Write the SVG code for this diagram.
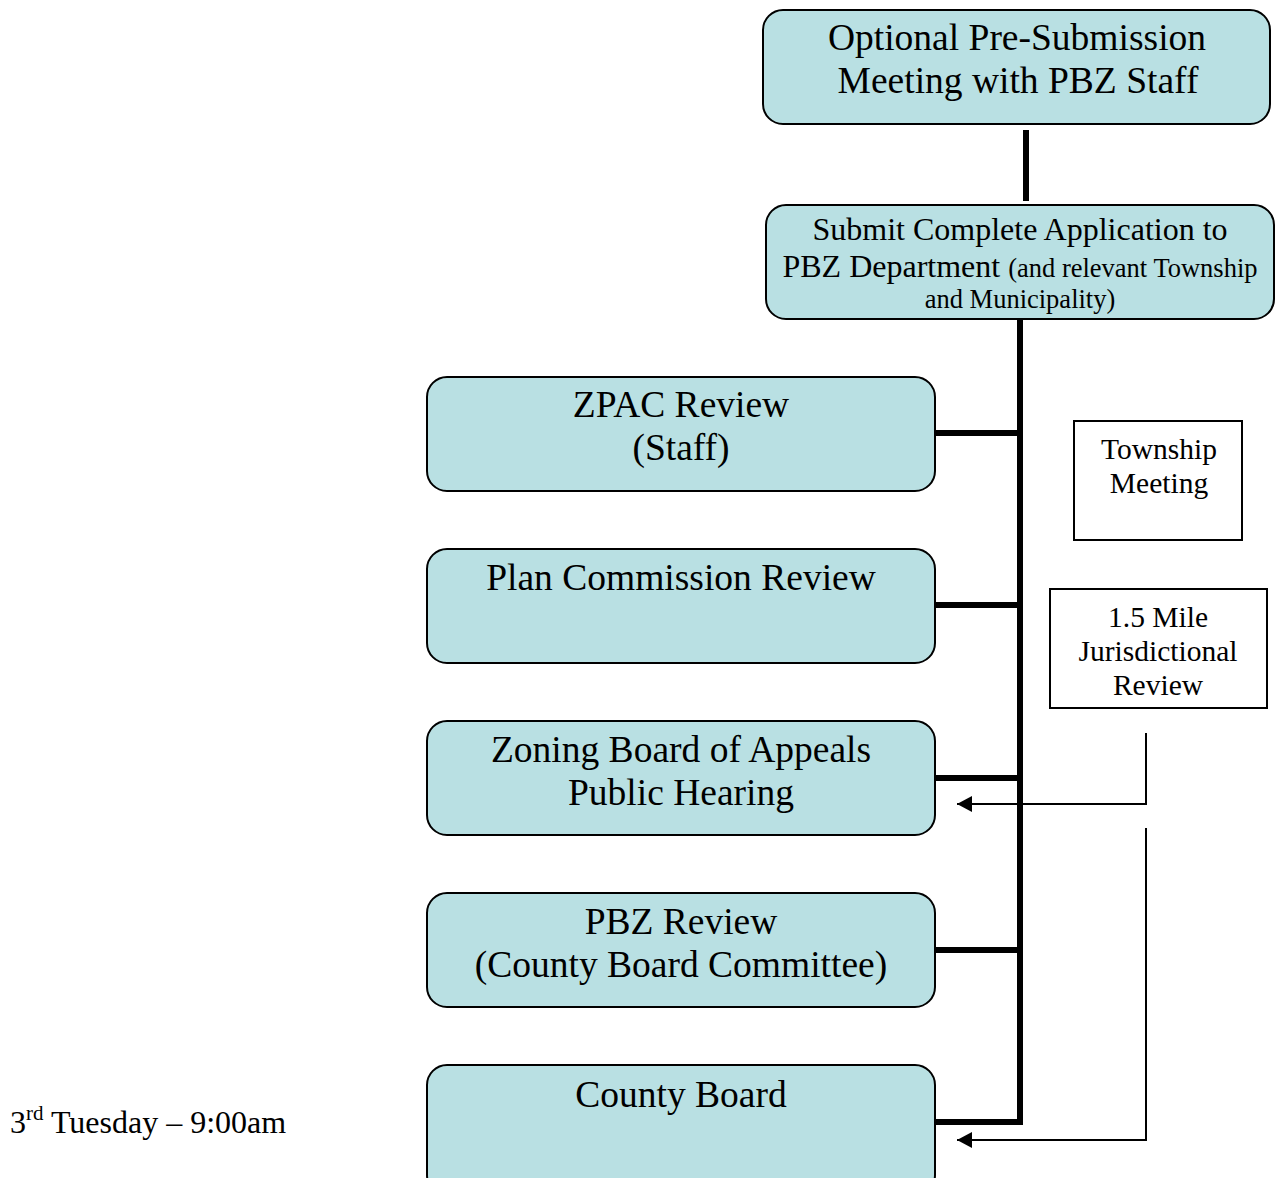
<svg xmlns="http://www.w3.org/2000/svg" width="1277" height="1178" viewBox="0 0 1277 1178">
<style>
.box{fill:#b9e0e3;stroke:#000;stroke-width:2}
.rect{fill:#fff;stroke:#000;stroke-width:2}
text{font-family:"Liberation Serif","Times New Roman",serif;fill:#000;text-anchor:middle}
.big{font-size:37.5px}
.mid{font-size:32px}
.sm{font-size:26.5px}
.lbl{font-size:29.5px}
.thick{stroke:#000;stroke-width:6;fill:none}
.thin{stroke:#000;stroke-width:2;fill:none}
</style>
<defs>
<marker id="ah" markerUnits="userSpaceOnUse" markerWidth="16" markerHeight="16" refX="15" refY="8" orient="auto">
<path d="M0,0 L15,8 L0,16 Z" fill="#000"/>
</marker>
</defs>
<rect width="1277" height="1178" fill="#fff"/>
<g id="connectors">
<line class="thick" x1="1026" y1="130" x2="1026" y2="201"/>
<polyline class="thick" points="1020,319 1020,1122 935,1122"/>
<line class="thick" x1="935" y1="433" x2="1020" y2="433"/>
<line class="thick" x1="935" y1="605" x2="1020" y2="605"/>
<line class="thick" x1="935" y1="778" x2="1020" y2="778"/>
<line class="thick" x1="935" y1="950" x2="1020" y2="950"/>
<polyline class="thin" points="1146,733 1146,804 957,804" marker-end="url(#ah)"/>
<polyline class="thin" points="1146,828 1146,1140 957,1140" marker-end="url(#ah)"/>
</g>
<g id="pre">
<rect class="box" x="763" y="10" width="507" height="114" rx="20"/>
<text class="big" x="1017" y="50">Optional Pre-Submission</text>
<text class="big" x="1018" y="93">Meeting with PBZ Staff</text>
</g>
<g id="submit">
<rect class="box" x="766" y="205" width="508" height="114" rx="20"/>
<text class="mid" x="1020" y="240">Submit Complete Application to</text>
<text x="1020" y="277"><tspan class="mid">PBZ Department </tspan><tspan class="sm">(and relevant Township</tspan></text>
<text class="sm" x="1020" y="308">and Municipality)</text>
</g>
<g id="zpac">
<rect class="box" x="427" y="377" width="508" height="114" rx="20"/>
<text class="big" x="681" y="417">ZPAC Review</text>
<text class="big" x="681" y="460">(Staff)</text>
</g>
<g id="plan">
<rect class="box" x="427" y="549" width="508" height="114" rx="20"/>
<text class="big" x="681" y="590">Plan Commission Review</text>
</g>
<g id="zba">
<rect class="box" x="427" y="721" width="508" height="114" rx="20"/>
<text class="big" x="681" y="762">Zoning Board of Appeals</text>
<text class="big" x="681" y="805">Public Hearing</text>
</g>
<g id="pbz">
<rect class="box" x="427" y="893" width="508" height="114" rx="20"/>
<text class="big" x="681" y="934">PBZ Review</text>
<text class="big" x="681" y="977">(County Board Committee)</text>
</g>
<g id="county">
<rect class="box" x="427" y="1065" width="508" height="130" rx="20"/>
<text class="big" x="681" y="1107">County Board</text>
</g>
<g id="township">
<rect class="rect" x="1074" y="421" width="168" height="119"/>
<text class="lbl" x="1159" y="459">Township</text>
<text class="lbl" x="1159" y="493">Meeting</text>
</g>
<g id="mile">
<rect class="rect" x="1050" y="589" width="217" height="119"/>
<text class="lbl" x="1158" y="627">1.5 Mile</text>
<text class="lbl" x="1158" y="661">Jurisdictional</text>
<text class="lbl" x="1158" y="695">Review</text>
</g>
<g id="note">
<text x="10" y="1133" style="text-anchor:start;font-size:32px">3<tspan font-size="21" dy="-13">rd</tspan><tspan dy="13"> Tuesday – 9:00am</tspan></text>
</g>
</svg>
